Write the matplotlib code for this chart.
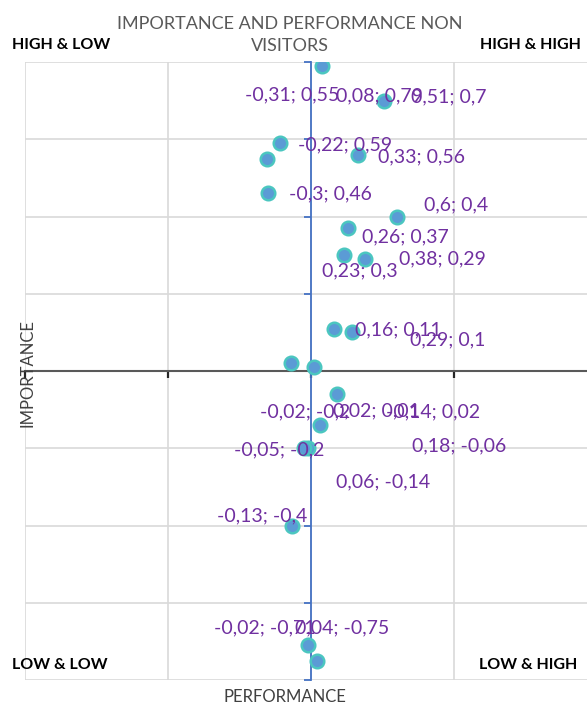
import matplotlib
matplotlib.use("Agg")
import matplotlib.pyplot as plt

plt.rcParams['font.family'] = ['Lato', 'DejaVu Sans']

# Data
performance = [0.08, -0.31, 0.51, -0.22, 0.33, -0.30, 0.60, 0.26, 0.38, 0.23,
               0.16, 0.29, -0.14, 0.02, 0.18, 0.06, -0.02, -0.05, -0.13, -0.02, 0.04]
importance = [0.79, 0.55, 0.70, 0.59, 0.56, 0.46, 0.40, 0.37, 0.29, 0.30,
              0.11, 0.10, 0.02, 0.01, -0.06, -0.14, -0.20, -0.20, -0.40, -0.71, -0.75]

# label offsets (pixels) relative to each point, as placed in the original
label_offsets = [(57, -30), (26, 64), (65, 4), (66, -2), (63, -2), (62, -1), (59, 12),
                 (57, -9), (77, 0), (16, -16), (64, -1), (95, -7), (142, -49),
                 (63, -44), (122, -52), (63, -57), (-3, 36), (-25, -2), (-30, 10),
                 (-43, 17), (25, 33)]

title = "IMPORTANCE AND PERFORMANCE NON\nVISITORS"
x_label = "PERFORMANCE"
y_label = "IMPORTANCE"
quadrants = ["HIGH & LOW", "HIGH & HIGH", "LOW & LOW", "LOW & HIGH"]

W, H = 587, 706
fig = plt.figure(figsize=(W / 100, H / 100), dpi=100)
ax = fig.add_axes([25 / W, 26 / H, 572 / W, 618 / H])
ax.set_xlim(-2, 2)
ax.set_ylim(-0.8, 0.8)

ax.set_xticks([-2, -1, 0, 1, 2])
ax.set_yticks([-0.8, -0.6, -0.4, -0.2, 0, 0.2, 0.4, 0.6, 0.8])
ax.grid(True, color='#d9d9d9', lw=1.2, zorder=0)
ax.set_axisbelow(True)

for s in ['top', 'right']:
    ax.spines[s].set_visible(False)
ax.spines['left'].set_position(('data', 0))
ax.spines['left'].set_color('#4472c4')
ax.spines['left'].set_linewidth(1.3)
ax.spines['bottom'].set_position(('data', 0))
ax.spines['bottom'].set_color('#595959')
ax.spines['bottom'].set_linewidth(1.5)
ax.tick_params(axis='y', direction='out', length=5, width=1.3, color='#4472c4',
               labelleft=False)
ax.tick_params(axis='x', direction='out', length=5, width=1.6, color='#262626',
               labelbottom=False)

ax.scatter(performance, importance, s=95, color='#5b9bd5', edgecolors='#4bc6c0',
           linewidths=1.8, zorder=3)

for x, y, (dx, dy) in zip(performance, importance, label_offsets):
    lbl = f"{x:g}; {y:g}".replace('.', ',')
    ax.annotate(lbl, (x, y), xytext=(dx, dy), textcoords='offset pixels',
                ha='center', va='center', fontsize=14, color='#7030a0', zorder=4)

fig.text(290 / W, 1 - 35 / H, title, ha='center', va='center', fontsize=13,
         color='#595959', linespacing=1.5)
fig.text(12 / W, 1 - 45 / H, quadrants[0], ha='left', va='center', fontsize=11.5,
         fontweight='bold', color='black')
fig.text(581 / W, 1 - 45 / H, quadrants[1], ha='right', va='center', fontsize=11.5,
         fontweight='bold', color='black')
fig.text(12 / W, 1 - 665 / H, quadrants[2], ha='left', va='center', fontsize=11.5,
         fontweight='bold', color='black')
fig.text(577 / W, 1 - 665 / H, quadrants[3], ha='right', va='center', fontsize=11.5,
         fontweight='bold', color='black')
fig.text(285 / W, 1 - 697 / H, x_label, ha='center', va='center', fontsize=12,
         color='#404040')
fig.text(27 / W, 1 - 373 / H, y_label, ha='center', va='center', fontsize=12,
         color='#404040', rotation=90)

fig.savefig("out.png", dpi=100)
